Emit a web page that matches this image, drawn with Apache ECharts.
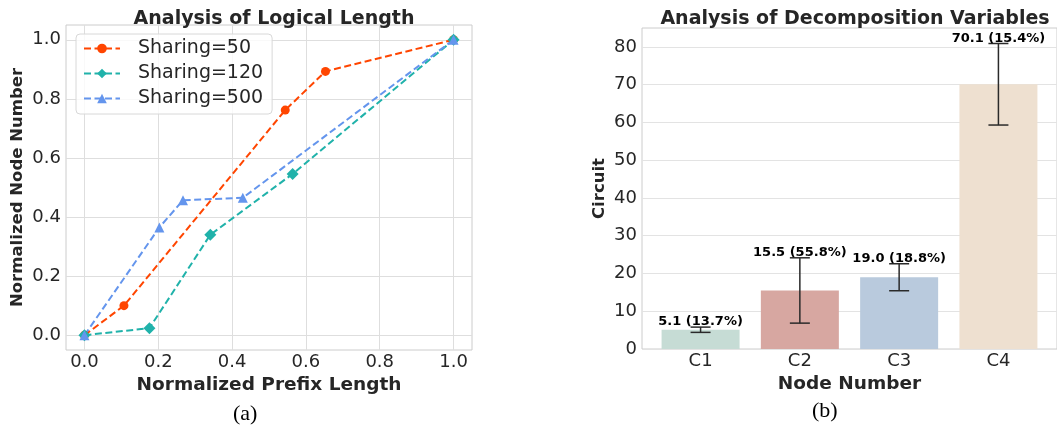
<!DOCTYPE html>
<html>
<head>
<meta charset="utf-8">
<script src="https://cdn.jsdelivr.net/npm/echarts@6/dist/echarts.min.js"></script>
<style>
html,body{margin:0;padding:0;background:#fff;}
#chart{width:1057px;height:428px;}
</style>
</head>
<body>
<div id="chart"></div>
<script>
// ---- Data (a) ----
const seriesNames = ['Sharing=50', 'Sharing=120', 'Sharing=500'];
const sharing50 = [[0, 0], [0.107, 0.100], [0.544, 0.762], [0.653, 0.893], [1.0, 1.0]];
const sharing120 = [[0, 0], [0.176, 0.024], [0.341, 0.340], [0.564, 0.546], [1.0, 1.0]];
const sharing500 = [[0, 0], [0.203, 0.365], [0.267, 0.457], [0.429, 0.465], [1.0, 1.0]];
const ticksA = [0, 0.2, 0.4, 0.6, 0.8, 1.0];

// ---- Data (b) ----
const categories = ['C1', 'C2', 'C3', 'C4'];
const barValues = [5.1, 15.5, 19.0, 70.1];
const errPercent = [13.7, 55.8, 18.8, 15.4];
const barColors = ['#c6dcd5', '#d7a7a1', '#b9cadd', '#eee0d0'];
const ticksB = [0, 10, 20, 30, 40, 50, 60, 70, 80];

const FONT = 'DejaVu Sans';
const TXT = '#262626';

const chart = echarts.init(document.getElementById('chart'), null, {renderer: 'canvas'});

const barData = barValues.map((v, i) => ({value: [i, v], itemStyle: {color: barColors[i]}}));
const errData = barValues.map((v, i) => {
  const e = v * errPercent[i] / 100;
  return [i, v - e, v + e];
});

const option = {
  backgroundColor: '#fff',
  animation: false,
  title: [
    {text: 'Analysis of Logical Length', left: 269, top: 5, textAlign: 'center',
     textStyle: {fontFamily: FONT, fontWeight: 'bold', fontSize: 19, color: TXT}},
    {text: 'Analysis of Decomposition Variables', left: 850, top: 5, textAlign: 'center',
     textStyle: {fontFamily: FONT, fontWeight: 'bold', fontSize: 19, color: TXT}}
  ],
  legend: {
    data: seriesNames,
    left: 76, top: 34,
    orient: 'vertical',
    itemWidth: 36, itemHeight: 12, itemGap: 6,
    padding: [5, 9, 6, 7],
    backgroundColor: 'rgba(255,255,255,0.8)',
    borderColor: '#d8d8d8', borderWidth: 1, borderRadius: 4,
    textStyle: {fontFamily: FONT, fontSize: 19, color: TXT, padding: [0, 0, 0, 13]}
  },
  grid: [
    {left: 66, top: 25, width: 406, height: 325, show: true, borderColor: '#cccccc', borderWidth: 1, backgroundColor: 'transparent'},
    {left: 642, top: 28, width: 417, height: 321, show: true, borderColor: '#cccccc', borderWidth: 1, backgroundColor: 'transparent'}
  ],
  xAxis: [
    {type: 'value', gridIndex: 0, min: -0.05, max: 1.05,
     name: 'Normalized Prefix Length', nameLocation: 'middle', nameGap: 21,
     nameTextStyle: {fontFamily: FONT, fontWeight: 'bold', fontSize: 18.5, color: TXT},
     axisLine: {show: false}, axisTick: {show: false, customValues: ticksA},
     axisLabel: {customValues: ticksA, formatter: v => v.toFixed(1), fontFamily: FONT, fontSize: 18, color: TXT, margin: 3},
     splitLine: {show: true, lineStyle: {color: '#dedede', width: 1}}},
    {type: 'value', gridIndex: 1, min: -0.59, max: 3.59,
     name: 'Node Number', nameLocation: 'middle', nameGap: 21,
     nameTextStyle: {fontFamily: FONT, fontWeight: 'bold', fontSize: 18.5, color: TXT},
     axisLine: {show: false}, axisTick: {show: false, customValues: [0, 1, 2, 3]},
     axisLabel: {customValues: [0, 1, 2, 3], formatter: v => categories[Math.round(v)], fontFamily: FONT, fontSize: 18, color: TXT, margin: 3},
     splitLine: {show: false}}
  ],
  yAxis: [
    {type: 'value', gridIndex: 0, min: -0.05, max: 1.05,
     name: 'Normalized Node Number', nameLocation: 'middle', nameGap: 40, nameRotate: 90,
     nameTextStyle: {fontFamily: FONT, fontWeight: 'bold', fontSize: 16.5, color: TXT},
     axisLine: {show: false}, axisTick: {show: false, customValues: ticksA},
     axisLabel: {customValues: ticksA, formatter: v => v.toFixed(1), fontFamily: FONT, fontSize: 18, color: TXT, margin: 5},
     splitLine: {show: true, lineStyle: {color: '#dedede', width: 1}}},
    {type: 'value', gridIndex: 1, min: 0, max: 85,
     name: 'Circuit', nameLocation: 'middle', nameGap: 34, nameRotate: 90,
     nameTextStyle: {fontFamily: FONT, fontWeight: 'bold', fontSize: 16.5, color: TXT},
     axisLine: {show: false}, axisTick: {show: false, customValues: ticksB},
     axisLabel: {customValues: ticksB, fontFamily: FONT, fontSize: 18, color: TXT, margin: 5},
     splitLine: {show: true, lineStyle: {color: '#e3e3e3', width: 1}}}
  ],
  series: [
    {name: seriesNames[0], type: 'line', xAxisIndex: 0, yAxisIndex: 0, data: sharing50,
     symbol: 'circle', symbolSize: 9, color: '#ff4500',
     lineStyle: {type: [7, 3.5], width: 2}, itemStyle: {color: '#ff4500'}},
    {name: seriesNames[1], type: 'line', xAxisIndex: 0, yAxisIndex: 0, data: sharing120,
     symbol: 'diamond', symbolSize: 12, color: '#20b2aa',
     lineStyle: {type: [7, 3.5], width: 2}, itemStyle: {color: '#20b2aa'}},
    {name: seriesNames[2], type: 'line', xAxisIndex: 0, yAxisIndex: 0, data: sharing500,
     symbol: 'triangle', symbolSize: 10, color: '#6495ed',
     lineStyle: {type: [7, 3.5], width: 2}, itemStyle: {color: '#6495ed'}},
    {type: 'bar', xAxisIndex: 1, yAxisIndex: 1, data: barData, barWidth: 78},
    {type: 'custom', xAxisIndex: 1, yAxisIndex: 1, data: errData, z: 5,
     renderItem: function (params, api) {
       const x = api.value(0), lo = api.value(1), hi = api.value(2);
       const pLo = api.coord([x, lo]);
       const pHi = api.coord([x, hi]);
       const half = 10;
       const st = {stroke: '#2a2a2a', lineWidth: 1.5};
       const i = params.dataIndex;
       return {type: 'group', children: [
         {type: 'line', shape: {x1: pLo[0], y1: pLo[1], x2: pHi[0], y2: pHi[1]}, style: st},
         {type: 'line', shape: {x1: pLo[0] - half, y1: pLo[1], x2: pLo[0] + half, y2: pLo[1]}, style: st},
         {type: 'line', shape: {x1: pHi[0] - half, y1: pHi[1], x2: pHi[0] + half, y2: pHi[1]}, style: st},
         {type: 'text', style: {text: barValues[i].toFixed(1) + ' (' + errPercent[i].toFixed(1) + '%)',
           x: pHi[0], y: pHi[1] - 5, align: 'center', verticalAlign: 'middle',
           font: 'bold 13px "DejaVu Sans"', fill: '#000'}}
       ]};
     }}
  ],
  graphic: [
    {type: 'text', left: 233, top: 403, style: {text: '(a)', font: '22px "Liberation Serif"', fill: '#000'}},
    {type: 'text', left: 812, top: 400, style: {text: '(b)', font: '22px "Liberation Serif"', fill: '#000'}}
  ]
};
chart.setOption(option);
</script>
</body>
</html>
